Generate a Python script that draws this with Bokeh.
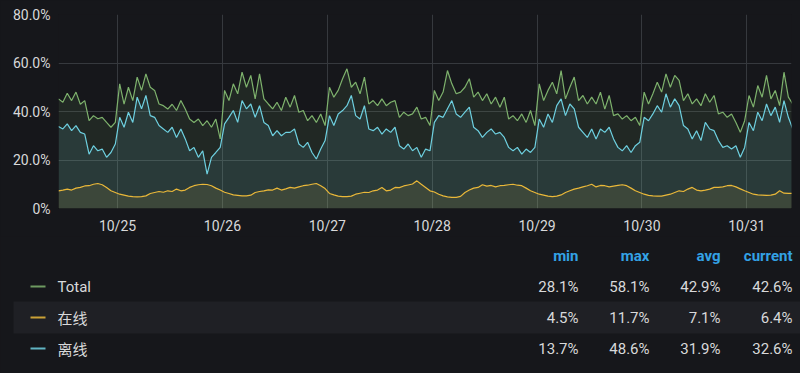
import pandas as pd
from bokeh.plotting import figure
from bokeh.models import (Range1d, FixedTicker, DatetimeTickFormatter, ColumnDataSource,
                          GlobalInlineStyleSheet)
from bokeh.core.properties import value
from bokeh.embed import file_html
from bokeh.resources import INLINE

# ---------------- data (hourly samples) ----------------
start_time = "2023-10-24 10:30"
view_start = "2023-10-24 10:30"
view_end = "2023-10-31 10:13"

total = [45.2, 43.8, 47.5, 44.5, 48.0, 43.0, 44.5, 36.2, 38.3, 37.0, 37.6, 35.5, 33.5, 35.5,
         51.4, 43.0, 50.0, 44.5, 54.2, 48.7, 55.5, 50.0, 48.7, 43.1, 42.4, 41.0, 43.0, 40.4,
         44.5, 41.0, 36.9, 35.5, 36.9, 34.2, 36.2, 33.5, 36.9, 28.7,
         48.7, 44.5, 51.4, 47.3, 56.2, 50.0, 54.9, 45.2, 55.5, 45.2, 43.1, 41.1, 43.8, 40.4,
         45.9, 41.8, 46.6, 39.7, 40.4, 36.2, 38.3, 35.5, 39.0, 34.2,
         50.0, 45.9, 48.7, 53.5, 57.6, 50.0, 52.1, 47.3, 54.2, 43.1, 44.5, 42.4, 45.2, 42.4,
         43.8, 44.5, 37.6, 39.7, 38.3, 39.0, 41.8, 36.9, 37.6, 34.2,
         48.7, 44.5, 48.0, 56.9, 51.4, 47.3, 48.0, 50.0, 53.5, 45.9, 48.0, 44.5, 47.3, 43.1,
         45.9, 41.8, 45.9, 36.9, 38.3, 36.2, 39.0, 35.5, 40.4, 34.2,
         51.4, 44.5, 48.7, 52.1, 47.3, 56.9, 45.2, 50.0, 54.2, 44.5, 46.6, 43.1, 45.9, 43.1,
         48.0, 41.0, 46.6, 38.3, 39.0, 36.9, 38.3, 36.2, 37.6, 34.2,
         48.0, 43.1, 47.3, 52.1, 48.0, 55.5, 50.0, 54.9, 52.8, 44.5, 47.3, 43.1, 45.2, 42.4,
         47.3, 43.8, 46.6, 39.0, 39.7, 37.6, 39.0, 35.5, 31.4, 36.2,
         46.6, 41.8, 50.7, 45.9, 54.9, 45.2, 48.7, 42.4, 56.2, 45.9, 43.1]

online = [7.3, 7.6, 8.0, 7.6, 8.4, 8.7, 9.3, 9.4, 10.0, 10.3, 9.8, 8.7, 7.3, 6.6,
          5.9, 5.5, 5.1, 4.9, 4.8, 4.9, 5.2, 6.2, 6.6, 7.0, 6.7, 7.3, 7.0, 8.0,
          7.3, 7.6, 8.7, 9.4, 9.8, 10.0, 9.9, 9.4, 8.4, 7.6,
          6.7, 6.2, 5.6, 5.4, 5.2, 5.2, 5.5, 6.6, 7.0, 7.3, 7.7, 7.6, 8.4, 7.6,
          8.1, 8.7, 8.4, 8.9, 9.4, 9.6, 10.0, 10.3, 9.4, 8.2,
          6.2, 5.6, 5.1, 4.9, 4.9, 5.1, 5.9, 6.3, 6.7, 6.6, 7.3, 7.6, 8.7, 7.3,
          7.6, 8.7, 8.6, 9.3, 9.7, 10.1, 11.4, 10.0, 8.7, 7.3,
          6.8, 5.9, 5.2, 4.8, 4.6, 4.6, 5.0, 6.6, 7.6, 8.4, 8.7, 9.8, 9.2, 9.5,
          8.9, 9.4, 9.5, 9.8, 10.0, 9.6, 9.4, 8.4, 7.3, 6.6,
          5.9, 5.5, 5.1, 4.9, 5.1, 5.6, 6.6, 7.3, 8.0, 8.4, 8.9, 9.4, 10.0, 8.9,
          9.5, 9.4, 8.9, 9.2, 9.5, 9.8, 9.4, 8.4, 7.3, 6.6,
          5.9, 5.4, 5.2, 5.1, 5.1, 5.5, 5.9, 6.6, 7.3, 7.0, 8.0, 8.7, 7.6, 7.3,
          7.6, 8.0, 8.7, 8.7, 8.9, 9.4, 9.5, 8.9, 8.1, 7.3,
          6.6, 5.9, 5.6, 5.5, 5.4, 5.5, 5.9, 7.3, 6.3, 6.2, 6.2]

offline = [33.8, 32.8, 34.9, 32.1, 34.2, 31.4, 30.7, 22.4, 25.9, 23.8, 24.5, 21.1, 23.1, 26.6,
           37.6, 33.5, 39.7, 35.5, 45.9, 41.1, 46.6, 38.3, 37.6, 34.2, 32.8, 31.4, 33.5, 29.3,
           32.8, 28.7, 23.8, 25.2, 21.1, 23.8, 14.2, 21.1, 23.1, 25.2,
           34.9, 37.6, 40.4, 35.5, 44.5, 41.1, 43.1, 37.6, 42.4, 35.5, 34.2, 30.0, 32.1, 30.0,
           31.4, 31.4, 32.8, 26.6, 25.2, 27.3, 23.1, 20.4, 24.5, 28.0,
           38.3, 34.2, 39.0, 40.4, 42.4, 46.6, 38.3, 36.9, 42.4, 32.8, 32.1, 33.5, 30.7, 32.8,
           31.4, 33.5, 25.9, 24.5, 26.6, 23.8, 25.2, 21.1, 24.5, 23.8,
           35.5, 38.3, 37.6, 41.1, 44.5, 39.0, 37.6, 39.7, 41.8, 33.5, 32.1, 29.3, 31.4, 32.8,
           30.7, 31.4, 29.3, 25.2, 23.8, 25.2, 22.4, 24.5, 23.1, 25.2,
           36.9, 33.5, 39.0, 35.5, 42.4, 45.2, 38.3, 43.1, 41.1, 33.5, 31.4, 29.3, 32.8, 28.7,
           32.8, 31.4, 33.5, 28.7, 25.2, 23.8, 25.9, 23.1, 25.9, 27.3,
           37.6, 36.2, 39.0, 42.4, 39.7, 47.3, 41.8, 45.2, 42.4, 34.2, 32.8, 28.7, 32.1, 28.0,
           35.5, 32.8, 32.1, 28.0, 25.2, 25.9, 24.5, 25.9, 21.1, 25.2,
           35.5, 32.1, 39.7, 36.2, 43.1, 38.3, 41.8, 35.5, 44.5, 37.6, 32.8]

day_ticks = ["2023-10-25", "2023-10-26", "2023-10-27", "2023-10-28",
             "2023-10-29", "2023-10-30", "2023-10-31"]
y_ticks = [0, 20, 40, 60, 80]
y_tick_labels = ["0%", "20.0%", "40.0%", "60.0%", "80.0%"]

series_names = ["Total", "在线", "离线"]
series_colors = ["#7EB26D", "#EAB839", "#6ED0E0"]
stat_headers = ["min", "max", "avg", "current"]
stat_total = ["28.1%", "58.1%", "42.9%", "42.6%"]
stat_online = ["4.5%", "11.7%", "7.1%", "6.4%"]
stat_offline = ["13.7%", "48.6%", "31.9%", "32.6%"]

# ---------------- styling / layout ----------------
BG = "#16171b"
BAND = "#1f2025"
TXT = "#d8d9da"
HDR = "#33a2e5"
GRID = "#36393e"
LATIN = "Roboto"
CJK = "Noto Sans CJK SC"

W = 800
CH = 236            # chart figure height
LH = 137            # legend figure height
FL, FR, FT, FB = 58, 791, 14, 208   # chart frame edges

times = pd.date_range(start=start_time, periods=len(total), freq="h")
src = ColumnDataSource(dict(t=times, total=total, online=online, offline=offline))

page_css = GlobalInlineStyleSheet(css="html, body { margin: 0 !important; padding: 0; background: %s; overflow: hidden; line-height: 0; }" % BG)

p = figure(width=W, height=CH, x_axis_type="datetime",
           x_range=Range1d(pd.Timestamp(view_start), pd.Timestamp(view_end)),
           y_range=Range1d(0, 80),
           toolbar_location=None, output_backend="svg",
           min_border_left=FL, min_border_right=W - FR, min_border_top=FT, min_border_bottom=CH - FB,
           background_fill_color=BG, border_fill_color=BG, outline_line_color=None,
           stylesheets=[page_css])

keys = ["total", "online", "offline"]
for k, c in zip(keys, series_colors):
    p.varea(x="t", y1=0, y2=k, source=src, fill_color=c, fill_alpha=0.11)
for k, c in zip(keys, series_colors):
    p.line(x="t", y=k, source=src, line_color=c, line_width=1.2)

p.xaxis.ticker = FixedTicker(ticks=[pd.Timestamp(d).value / 1e6 for d in day_ticks])
p.xaxis.formatter = DatetimeTickFormatter(days="%m/%d", hours="%m/%d", months="%m/%d")
p.yaxis.ticker = FixedTicker(ticks=y_ticks)
p.yaxis.major_label_overrides = {t: l for t, l in zip(y_ticks, y_tick_labels)}

for ax in (p.xaxis, p.yaxis):
    ax.axis_line_color = None
    ax.major_tick_line_color = None
    ax.minor_tick_line_color = None
    ax.major_tick_out = 0
    ax.major_tick_in = 0
    ax.minor_tick_out = 0
    ax.major_label_text_color = TXT
    ax.major_label_text_font = LATIN
    ax.major_label_text_font_size = "14px"
p.xaxis.major_label_standoff = 9
p.yaxis.major_label_standoff = 8
p.xgrid.grid_line_color = GRID
p.ygrid.grid_line_color = GRID
p.xgrid.ticker = p.xaxis.ticker
p.ygrid.ticker = p.yaxis.ticker

# ---------------- legend table: separate figure, pixel coordinates ----------------
leg = figure(width=W, height=LH, x_range=Range1d(0, W), y_range=Range1d(LH, 0),
             toolbar_location=None, output_backend="svg",
             min_border=0, min_border_left=0, min_border_right=0, min_border_top=0, min_border_bottom=0,
             x_axis_location=None, y_axis_location=None,
             background_fill_color=BG, border_fill_color=BG, outline_line_color=None)
leg.grid.visible = False

header_y = 19
row_h = 31
col_right = [578, 649, 720, 792]
row_y = [header_y + row_h * (i + 1) for i in range(3)]

# striped middle row
leg.quad(left=13, right=W, top=row_y[1] - 16, bottom=row_y[1] + 16, fill_color=BAND, line_color=None)

leg.text(x=col_right, y=[header_y] * 4, text=stat_headers, text_align="right", text_baseline="middle",
         text_color=HDR, text_font=value(LATIN), text_font_size="15px", text_font_style="bold")

fonts = [LATIN, CJK, CJK]
stats = [stat_total, stat_online, stat_offline]
for name, col, f, st, yy in zip(series_names, series_colors, fonts, stats, row_y):
    leg.segment(x0=30, x1=45, y0=yy, y1=yy, line_color=col, line_width=2, line_alpha=0.85)
    leg.text(x=[57], y=[yy], text=[name], text_align="left", text_baseline="middle",
             text_color=TXT, text_font=value(f), text_font_size="15px")
    leg.text(x=col_right, y=[yy] * 4, text=st, text_align="right", text_baseline="middle",
             text_color=TXT, text_font=value(LATIN), text_font_size="15px")

open("out.html", "w").write(file_html([p, leg], INLINE))
